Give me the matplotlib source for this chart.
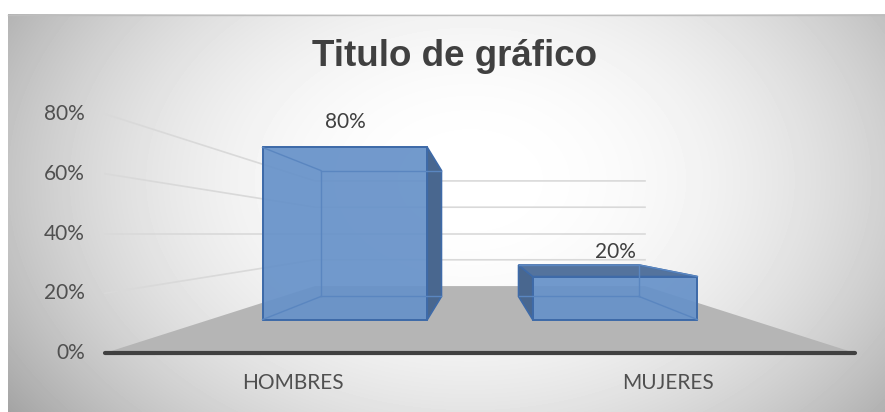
import numpy as np
import matplotlib
matplotlib.use("Agg")
from matplotlib import pyplot as plt
from matplotlib.patches import Polygon

# data
categories = ["HOMBRES", "MUJERES"]
values = [0.80, 0.20]
ticks = [0.0, 0.2, 0.4, 0.6, 0.8]
tick_labels = ["0%", "20%", "40%", "60%", "80%"]
title = "Titulo de gráfico"

W, H = 885, 412
fig = plt.figure(figsize=(W / 100, H / 100), dpi=100)
ax = fig.add_axes([0, 0, 1, 1])
ax.set_xlim(0, W)
ax.set_ylim(H, 0)
ax.axis("off")

# front plane layout (pixels) and perspective
x0, x1 = 105, 855
y_zero, px_per_unit = 353, 298.75
eye_x, eye_y = 480, y_zero - 0.4 * px_per_unit
k = 1 / 0.44 - 1


def proj(X, v, z):
	s = 1 / (1 + k * z)
	Y = y_zero - v * px_per_unit
	return eye_x + (X - eye_x) * s, eye_y + (Y - eye_y) * s


def cat_x(i):
	return x0 + (x1 - x0) * (i + 0.5) / len(categories)


# background radial gradient
gx, gy = np.meshgrid(np.arange(8, W), np.arange(14, H))
r = np.sqrt(((gx - 470) / 480) ** 2 + ((gy - 180) / 340) ** 2)
shade = 1 - 0.25 * np.clip(r, 0, 1.2) ** 2.2
ax.imshow(shade, cmap="gray", vmin=0, vmax=1, extent=(8, W, H, 14), zorder=0)
ax.plot([8, W], [14.5, 14.5], color="#bdbdbd", lw=1, zorder=1)

# floor
floor = [proj(x0, 0, 0), proj(x1, 0, 0), proj(x1, 0, 1), proj(x0, 0, 1)]
ax.add_patch(Polygon(floor, closed=True, facecolor="#b5b5b5", edgecolor="none", zorder=2))

# gridlines on side and back wall
for t in ticks[1:]:
	a = proj(x0, t, 0)
	b = proj(x0, t, 1)
	c = proj(x1, t, 1)
	ax.plot([a[0], b[0], c[0]], [a[1], b[1], c[1]], color="#d9d9d9", lw=1.2, zorder=2)
ax.plot([x0, x1], [y_zero, y_zero], color="#404040", lw=3, solid_capstyle="round", zorder=3)

# tick labels
for t, lab in zip(ticks, tick_labels):
	ax.text(x0 - 20, y_zero - t * px_per_unit, lab, ha="right", va="center",
		fontsize=15, family="Lato", color="#505050", zorder=5)

# bars
bw = 0.61 * (x1 - x0) / len(categories)
zf, zb = 0.305, 0.705
front_c, side_c, top_c = "#6792c9", "#49678f", "#54739d"
edge_c = "#3e6aa8"
for i, (cat, v) in enumerate(zip(categories, values)):
	xc = cat_x(i)
	xl, xr = xc - bw / 2, xc + bw / 2
	fbl, fbr, ftr, ftl = proj(xl, 0, zf), proj(xr, 0, zf), proj(xr, v, zf), proj(xl, v, zf)
	bbl, bbr, btr, btl = proj(xl, 0, zb), proj(xr, 0, zb), proj(xr, v, zb), proj(xl, v, zb)
	# side face facing the eye
	if xc < eye_x:
		side = [fbr, ftr, btr, bbr]
		inner = [[fbl, bbl], [ftl, btl], [btl, bbl], [bbl, bbr], [btl, btr]]
	else:
		side = [fbl, ftl, btl, bbl]
		inner = [[fbr, bbr], [ftr, btr], [btr, bbr], [bbl, bbr], [btl, btr]]
	ax.add_patch(Polygon(side, closed=True, facecolor=side_c, edgecolor=edge_c, lw=1.2, zorder=4))
	if v * px_per_unit < y_zero - eye_y:
		ax.add_patch(Polygon([ftl, ftr, btr, btl], closed=True, facecolor=top_c,
			edgecolor=edge_c, lw=1.2, zorder=4))
	ax.add_patch(Polygon([fbl, fbr, ftr, ftl], closed=True, facecolor=front_c,
		edgecolor=edge_c, lw=1.3, alpha=0.93, zorder=5))
	ax.add_patch(Polygon([fbl, fbr, ftr, ftl], closed=True, facecolor="none",
		edgecolor=edge_c, lw=1.3, zorder=6))
	for p, q in inner:
		ax.plot([p[0], q[0]], [p[1], q[1]], color="#5a86c0", lw=1, zorder=6)
	# data label
	ax.text((ftl[0] + ftr[0]) / 2, ftl[1] - 25, "{:.0%}".format(v), ha="center", va="center",
		fontsize=15, family="Lato", color="#404040", zorder=7)
	# category label
	ax.text(xc, 383, cat, ha="center", va="center", fontsize=15, family="Lato",
		color="#505050", zorder=7)

ax.text(455, 56, title, ha="center", va="center", fontsize=26.5, fontweight="bold",
	family="Liberation Sans", color="#404040", zorder=7)

fig.savefig("out.png", dpi=100)
